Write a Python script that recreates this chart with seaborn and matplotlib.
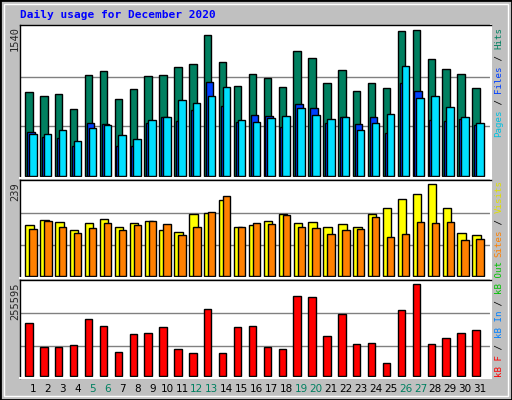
import numpy as np
import pandas as pd
import seaborn as sns
import matplotlib
matplotlib.use("Agg")
import matplotlib.pyplot as plt
from matplotlib.patches import Rectangle

days = list(range(1, 32))
hits = [870, 829, 849, 695, 1044, 1085, 801, 903, 1033, 1044, 1126, 1157, 1454, 1177, 931, 1054, 1013, 920, 1290, 1218, 961, 1095, 883, 961, 910, 1496, 1506, 1208, 1105, 1054, 910]
files = [459, 407, 397, 305, 551, 541, 315, 315, 551, 613, 572, 685, 972, 726, 561, 633, 623, 510, 746, 705, 551, 613, 541, 613, 441, 961, 879, 578, 572, 592, 530]
pages = [438, 438, 479, 366, 500, 530, 428, 387, 582, 613, 787, 757, 828, 920, 582, 561, 602, 623, 705, 633, 592, 613, 479, 551, 643, 1136, 808, 828, 715, 613, 551]
visits = [129, 142, 137, 116, 135, 145, 124, 135, 140, 116, 113, 157, 160, 193, 124, 129, 140, 157, 135, 137, 124, 132, 124, 157, 172, 195, 208, 233, 172, 109, 104]
sites = [119, 140, 124, 109, 122, 135, 116, 129, 140, 132, 104, 124, 162, 203, 124, 135, 132, 155, 124, 122, 106, 116, 119, 149, 100, 106, 137, 135, 137, 91, 94]
kbf = [146600, 79400, 79400, 84900, 157800, 138200, 65300, 115700, 118500, 135400, 73800, 62600, 185700, 62600, 135400, 138200, 79400, 73800, 222000, 219200, 110100, 171700, 87700, 90500, 34500, 182900, 255595, 87700, 104500, 118500, 126900]
weekend = [5, 6, 12, 13, 19, 20, 26, 27]

W, H = 512, 400
fig = plt.figure(figsize=(5.12, 4.0), dpi=100)
fig.patch.set_facecolor("#c0c0c0")
sns.set_style("white")
mono = "DejaVu Sans Mono"

def fx(px): return px / W
def fy(py): return 1 - py / H

# outer bevel border
fig.add_artist(Rectangle((0, 0), 1, 1, transform=fig.transFigure, fill=False, edgecolor="black", lw=2))
fig.add_artist(Rectangle((fx(4), fy(396)), fx(504), 392 / H, transform=fig.transFigure, fill=False, edgecolor="white", lw=1))

x0, x1 = 20, 491
xl = (0.13, 31.74)
panels = [
    (26, 176, 1540 * 1.0, "1540"),
    (182, 276, 239 * 1.0, "239"),
    (276.7, 375.7, 261650, "255595"),
]

def make_ax(top, bot):
    ax = fig.add_axes([fx(x0), fy(bot + 2), fx(x1 - x0), (bot + 2 - top + 1) / H])
    ax.set_facecolor("#c0c0c0")
    return ax

def bars(ax, off, vals, width, color):
    df = pd.DataFrame({"x": np.array(days) + off, "y": vals})
    sns.barplot(data=df, x="x", y="y", native_scale=True, width=width, color=color,
                edgecolor="black", linewidth=1, saturation=1, ax=ax)

axes = []
# Top
ax = fig.add_axes([fx(x0), fy(178), fx(x1 - x0), 153 / H])
bars(ax, -0.27, hits, 0.5, "#008060")
bars(ax, -0.145, files, 0.5, "#0040ff")
bars(ax, -0.01, pages, 0.5, "#00e0ff")
ax.set_ylim(-2 * 1540 / 150, 1540 * 152 / 150)
for g in (1540 / 3, 2 * 1540 / 3):
    ax.axhline(g, color="#808080", lw=1, zorder=0)
axes.append(ax)
# Middle
ax = fig.add_axes([fx(x0), fy(278), fx(x1 - x0), 98 / H])
bars(ax, -0.23, visits, 0.56, "#ffff00")
bars(ax, 0.0, sites, 0.49, "#ff8000")
s = 239 / 94
ax.set_ylim(-2 * s, 96 * s)
for g in (31 * s, 63 * s):
    ax.axhline(g, color="#808080", lw=1, zorder=0)
axes.append(ax)
# Bottom
ax = fig.add_axes([fx(x0), fy(378), fx(x1 - x0), 98 / H])
bars(ax, -0.27, kbf, 0.5, "#ff0000")
s = 255595 / 91.3
ax.set_ylim(-2.3 * s, 95.7 * s)
for g in (29.3 * s, 62.3 * s):
    ax.axhline(g, color="#808080", lw=1, zorder=0)
axes.append(ax)

for a in axes:
    a.set_xlim(*xl)
    a.set_xlabel(""); a.set_ylabel("")
    a.set_xticks([]); a.set_yticks([])
    a.set_axisbelow(True)
    for sp in ("left", "top"):
        a.spines[sp].set_color("black"); a.spines[sp].set_linewidth(1)
    for sp in ("right", "bottom"):
        a.spines[sp].set_color("white"); a.spines[sp].set_linewidth(1.5)

# title
fig.text(fx(20), fy(15), "Daily usage for December 2020", color="#0000ff", fontsize=8,
         fontweight="bold", family=mono, va="center", ha="left")

# left max labels
for (py, lab) in [(26, "1540"), (182, "239"), (283, "255595")]:
    fig.text(fx(15), fy(py), lab, rotation=90, fontsize=7.5, family=mono, va="top", ha="center")

# right labels
cw = 5.5
def vlabel(ybottom, pieces):
    y = ybottom
    for txt, col in pieces:
        fig.text(fx(499), fy(y), txt, rotation=90, color=col, fontsize=6.6, family=mono,
                 va="bottom", ha="center")
        y -= cw * len(txt)

vlabel(137, [("Pages", "#00c0e0"), (" / ", "black"), ("Files", "#0040ff"), (" / ", "black"), ("Hits", "#008060")])
vlabel(257, [("Sites", "#ff8000"), (" / ", "black"), ("Visits", "#e0e000")])
vlabel(377, [("kB F", "#ff0000"), (" / ", "black"), ("kB In", "#0080ff"), (" / ", "black"), ("kB Out", "#00c000")])

# day labels
for d in days:
    px = 33 + 14.9 * (d - 1)
    fig.text(fx(px), fy(389), str(d), fontsize=7.5, ha="center", va="center",
             color="#008060" if d in weekend else "black")

fig.savefig("out.png", dpi=100, facecolor=fig.get_facecolor())
